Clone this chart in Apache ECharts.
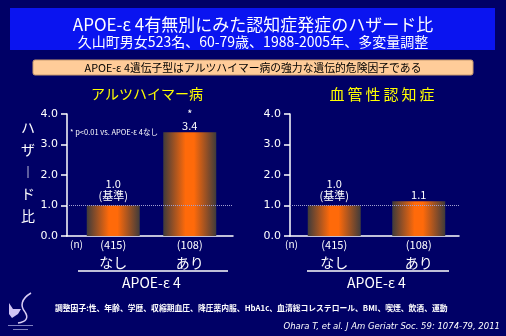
<!DOCTYPE html>
<html><head><meta charset="utf-8">
<script src="https://cdn.jsdelivr.net/npm/echarts@6/dist/echarts.min.js"></script>
<style>html,body{margin:0;padding:0;background:#000066;}#c{width:506px;height:336px;}</style>
</head><body><div id="c"></div>
<script>
// ---- data ----
const categories = ['なし', 'あり'];
const counts = ['(415)', '(108)'];
const adValues = [1.0, 3.4];          // アルツハイマー病
const vdValues = [1.0, 1.14];         // 血管性認知症
const adNotes = ['(基準)', ''];
const adStars = ['', '*'];
const vdNotes = ['(基準)', ''];
const vdStars = ['', ''];
const yMin = 0, yMax = 4, yStep = 1;
const refValue = 1.0;
const panelTitles = ['アルツハイマー病', '血\u2009管\u2009性\u2009認\u2009知\u2009症'];
const xName = 'APOE-ε 4';

const JP = '"Noto Sans CJK JP", "Noto Sans", sans-serif';
const chart = echarts.init(document.getElementById('c'), null, {renderer: 'canvas'});

const barColor = {
  type: 'linear', x: 0, y: 0, x2: 1, y2: 0,
  colorStops: [
    {offset: 0, color: '#3f3b3b'},
    {offset: 0.42, color: '#ff6a0a'},
    {offset: 0.58, color: '#ff6a0a'},
    {offset: 1, color: '#3f3b3b'}
  ]
};

function barsX(gridIndex) {
  return {
    type: 'category', gridIndex, data: categories,
    axisLine: {show: false}, axisTick: {show: false},
    axisLabel: {
      margin: 1, color: '#fff', fontFamily: JP,
      formatter: (v, i) => `{n|${counts[i]}}\n{c|${v}}`,
      rich: {n: {fontSize: 11, lineHeight: 16, color: '#fff', fontFamily: JP},
             c: {fontSize: 14, lineHeight: 19, color: '#fff', fontFamily: JP}}
    },
    name: xName, nameLocation: 'middle', nameGap: 40,
    nameTextStyle: {color: '#fff', fontSize: 14, fontFamily: JP}
  };
}
function frameX(gridIndex) {
  return {
    type: 'category', gridIndex, data: categories,
    axisLine: {show: true, lineStyle: {color: '#fff', width: 1.5}},
    axisTick: {show: false}, axisLabel: {show: false}
  };
}
function hiddenY(gridIndex) {
  return {type: 'value', gridIndex, min: yMin, max: yMax, interval: yStep, show: false};
}
function frameY(gridIndex) {
  return {
    type: 'value', gridIndex, min: yMin, max: yMax, interval: yStep,
    axisLine: {show: true, lineStyle: {color: '#fff', width: 1.5}},
    axisTick: {show: true, length: 6, lineStyle: {color: '#fff', width: 1.5}},
    axisLabel: {color: '#fff', fontSize: 11, margin: 9, fontFamily: 'DejaVu Sans',
                formatter: v => v.toFixed(1)},
    splitLine: {show: false}
  };
}
function barSeries(xi, values, notes, stars) {
  return {
    type: 'bar', xAxisIndex: xi, yAxisIndex: xi, z: 3,
    barWidth: 53,
    itemStyle: {color: barColor},
    data: values.map((v, i) => ({
      value: v,
      label: {
        show: true, position: 'top', distance: notes[i] ? 3 : 0,
        color: '#fff', fontSize: 11, lineHeight: 12.5, fontFamily: JP,
        formatter: () => [stars[i], v.toFixed(1), notes[i]].filter(s => s).join('\n')
      }
    }))
  };
}
function refSeries(xi) {
  return {
    type: 'line', xAxisIndex: xi, yAxisIndex: xi, z: 1, data: [],
    markLine: {
      silent: true, symbol: ['none', 'none'], label: {show: false},
      lineStyle: {type: 'dotted', color: '#a0a0d0', width: 1},
      data: [{yAxis: refValue}]
    }
  };
}

const graphic = [
  // header box
  {type: 'rect', shape: {x: 10, y: 8, width: 485, height: 42}, style: {fill: '#0a14f0'}},
  {type: 'text', x: 253, y: 25, style: {text: 'APOE-ε 4有無別にみた認知症発症のハザード比', fill: '#fff',
    font: '17px ' + JP, align: 'center', verticalAlign: 'middle'}},
  {type: 'text', x: 253, y: 42, style: {text: '久山町男女523名、60-79歳、1988-2005年、多変量調整', fill: '#fff',
    font: '14px ' + JP, align: 'center', verticalAlign: 'middle'}},
  // key message box
  {type: 'rect', shape: {x: 33, y: 60, width: 440, height: 15, r: 2},
    style: {fill: '#ffcc99', stroke: '#c89a70', lineWidth: 1}},
  {type: 'text', x: 253, y: 68, style: {text: 'APOE-ε 4遺伝子型はアルツハイマー病の強力な遺伝的危険因子である', fill: '#000',
    font: '10.8px ' + JP, align: 'center', verticalAlign: 'middle'}},
  // panel titles
  {type: 'text', x: 147, y: 94, style: {text: panelTitles[0], fill: '#ffff00', font: '14px ' + JP,
    align: 'center', verticalAlign: 'middle'}},
  {type: 'text', x: 382, y: 94, style: {text: panelTitles[1], fill: '#ffff00', font: '15px ' + JP,
    align: 'center', verticalAlign: 'middle'}},
  // y axis name (vertical)
  {type: 'text', x: 28, y: 172, style: {text: 'ハ\nザ\n︱\nド\n比', fill: '#fff', font: '14px ' + JP,
    lineHeight: 22, align: 'center', verticalAlign: 'middle'}},
  // significance note
  {type: 'text', x: 70, y: 132, style: {text: '* p<0.01 vs. APOE-ε 4なし', fill: '#fff', font: '7.5px ' + JP,
    align: 'left', verticalAlign: 'middle'}},
  // (n) labels
  {type: 'text', x: 70, y: 244, style: {text: '(n)', fill: '#fff', font: '10px ' + JP, align: 'left', verticalAlign: 'middle'}},
  {type: 'text', x: 285, y: 244, style: {text: '(n)', fill: '#fff', font: '10px ' + JP, align: 'left', verticalAlign: 'middle'}},
  // underlines above APOE-ε4
  {type: 'line', shape: {x1: 78, y1: 271, x2: 228, y2: 271}, style: {stroke: '#fff', lineWidth: 1.5}},
  {type: 'line', shape: {x1: 307, y1: 271, x2: 449, y2: 271}, style: {stroke: '#fff', lineWidth: 1.5}},
  // footer
  {type: 'text', x: 55, y: 308, style: {text: '調整因子:性、年齢、学歴、収縮期血圧、降圧薬内服、HbA1c、血清総コレステロール、BMI、喫煙、飲酒、運動',
    fill: '#fff', font: 'bold 7.8px ' + JP, align: 'left', verticalAlign: 'middle'}},
  {type: 'text', x: 500, y: 327, style: {text: 'Ohara T, et al. J Am Geriatr Soc. 59: 1074-79, 2011',
    fill: '#fff', font: 'italic 8.5px "DejaVu Sans", sans-serif', align: 'right', verticalAlign: 'middle'}},
  // logo
  {type: 'bezierCurve', shape: {x1: 31, y1: 293, cpx1: 21, cpy1: 299, cpx2: 20, cpy2: 306, x2: 25, y2: 312},
    style: {stroke: '#d8ccf4', lineWidth: 1.5, fill: null}},
  {type: 'bezierCurve', shape: {x1: 25, y1: 312, cpx1: 29, cpy1: 318, cpx2: 26, cpy2: 322, x2: 18, y2: 323},
    style: {stroke: '#d8ccf4', lineWidth: 1.5, fill: null}},
  {type: 'polygon', shape: {points: [[9, 303], [13, 309], [21, 309], [18, 314], [12, 318], [9, 314]]},
    style: {fill: '#d0c4f4'}},
  {type: 'rect', shape: {x: 8, y: 325, width: 25, height: 1}, style: {fill: '#8080c0'}},
  {type: 'rect', shape: {x: 13, y: 329, width: 15, height: 1}, style: {fill: '#8080c0'}}
];

chart.setOption({
  backgroundColor: '#000066',
  animation: false,
  grid: [
    {left: 75, top: 114, width: 153, height: 122},
    {left: 67, top: 114, width: 166, height: 122},
    {left: 292, top: 114, width: 169, height: 122},
    {left: 290, top: 114, width: 169, height: 122}
  ],
  xAxis: [barsX(0), frameX(1), barsX(2), frameX(3)],
  yAxis: [hiddenY(0), frameY(1), hiddenY(2), frameY(3)],
  series: [
    barSeries(0, adValues, adNotes, adStars),
    refSeries(1),
    barSeries(2, vdValues, vdNotes, vdStars),
    refSeries(3)
  ],
  graphic
});
</script></body></html>
